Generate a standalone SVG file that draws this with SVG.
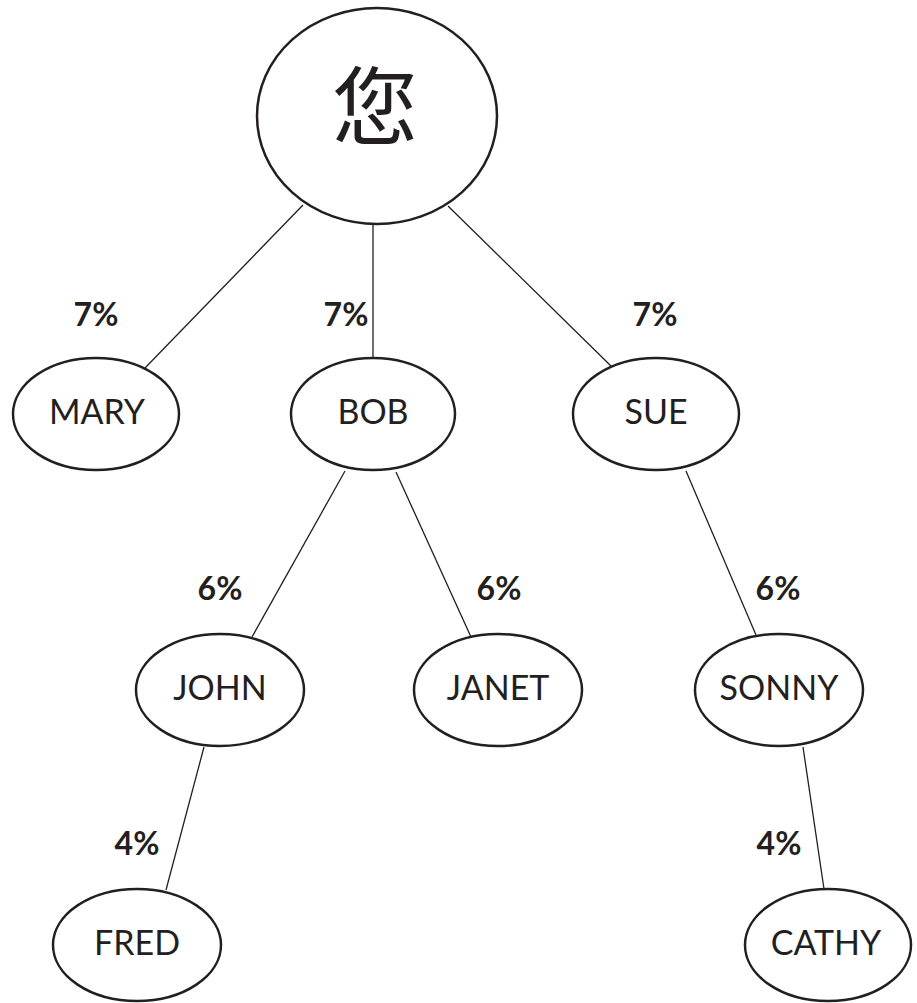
<svg xmlns="http://www.w3.org/2000/svg" width="917" height="1003" viewBox="0 0 917 1003">
<style>
.node ellipse{fill:#fff;stroke:#231f20;stroke-width:2.5}
.node text{font-family:Lato,"Liberation Sans",sans-serif;font-size:34px;fill:#231f20;text-anchor:middle}
#connectors line{stroke:#231f20;stroke-width:1.3}
.pct{font-family:Lato,"Liberation Sans",sans-serif;font-weight:bold;font-size:32px;fill:#231f20;text-anchor:middle}
</style>
<rect width="917" height="1003" fill="#fff"/>
<g id="connectors">
<line x1="303" y1="205" x2="145" y2="368"/>
<line x1="373" y1="224" x2="373" y2="358"/>
<line x1="448" y1="206" x2="611" y2="366"/>
<line x1="345" y1="471" x2="252" y2="637"/>
<line x1="396" y1="472" x2="471" y2="637"/>
<line x1="686" y1="471" x2="756" y2="635"/>
<line x1="204" y1="747" x2="166" y2="890"/>
<line x1="803" y1="747" x2="824" y2="889"/>
</g>
<g id="labels">
<text class="pct" x="96" y="326">7%</text>
<text class="pct" x="346" y="326">7%</text>
<text class="pct" x="655" y="326">7%</text>
<text class="pct" x="220" y="600">6%</text>
<text class="pct" x="499" y="600">6%</text>
<text class="pct" x="778" y="600">6%</text>
<text class="pct" x="137" y="855">4%</text>
<text class="pct" x="779" y="855">4%</text>
</g>
<g id="root" class="node">
<ellipse cx="377" cy="116" rx="120" ry="108"/>
<text x="375" y="139" style="font-family:'Noto Sans CJK SC','Noto Sans CJK JP',sans-serif;font-size:86px">您</text>
</g>
<g id="mary" class="node"><ellipse cx="96" cy="414" rx="83" ry="56"/><text x="97" y="424">MARY</text></g>
<g id="bob" class="node"><ellipse cx="373" cy="414" rx="82" ry="56"/><text x="373" y="424">BOB</text></g>
<g id="sue" class="node"><ellipse cx="656" cy="414" rx="83" ry="56"/><text x="656" y="424">SUE</text></g>
<g id="john" class="node"><ellipse cx="220" cy="690" rx="84" ry="56"/><text x="220" y="700">JOHN</text></g>
<g id="janet" class="node"><ellipse cx="498" cy="690" rx="84" ry="56"/><text x="498" y="700">JANET</text></g>
<g id="sonny" class="node"><ellipse cx="779" cy="690" rx="84" ry="56"/><text x="779" y="700">SONNY</text></g>
<g id="fred" class="node"><ellipse cx="137" cy="945" rx="84" ry="56"/><text x="137" y="955">FRED</text></g>
<g id="cathy" class="node"><ellipse cx="828" cy="945" rx="83" ry="56"/><text x="826" y="955">CATHY</text></g>
</svg>
